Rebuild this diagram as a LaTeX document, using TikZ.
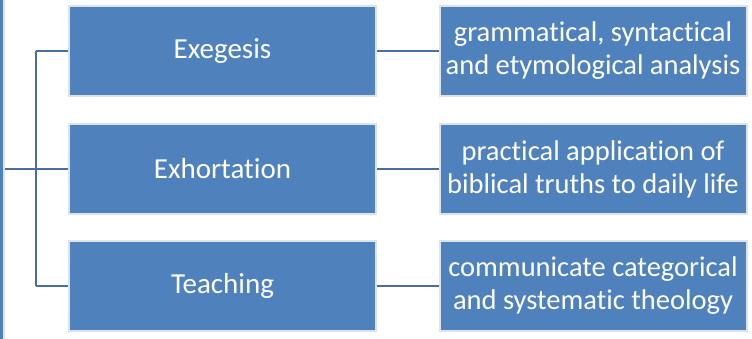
\documentclass[tikz,border=0pt]{standalone}
\usepackage{fontspec}
\setmainfont[Ligatures=NoCommon]{Carlito}
\usetikzlibrary{positioning}
\definecolor{boxblue}{HTML}{4F81BD}
\definecolor{rimgray}{HTML}{DDE3EB}
\definecolor{linkblue}{HTML}{4A6C9E}

\begin{document}
\begin{tikzpicture}[
  x=1pt, y=-1pt,
  topicbox/.style={draw=rimgray, line width=2pt, fill=boxblue, text=white,
    minimum width=307pt, minimum height=90pt, inner sep=0pt, font=\fontsize{29}{34}\selectfont},
  notebox/.style={topicbox, align=center, font=\fontsize{28.5}{33}\selectfont},
  link/.style={draw=linkblue, line width=2.2pt}
  ]

\useasboundingbox (0,0) rectangle (752,339);
\clip (0,0) rectangle (752,339);

% root box, cut off at the left edge
\node[topicbox, minimum width=40pt, minimum height=345pt, anchor=east] (root) at (5,169.5) {};

% topics
\node[topicbox] (exe) at (222.5,51) {Exegesis};
\node[topicbox] (exh) at (222.5,169) {Exhortation};
\node[topicbox] (tea) at (222.5,286) {Teaching};

% notes
\node[notebox] (exenote) at (593,51) {grammatical, syntactical\\and etymological analysis};
\node[notebox] (exhnote) at (593,169) {practical application of\\biblical truths to daily life};
\node[notebox] (teanote) at (593,286) {communicate categorical\\and systematic theology};

% bracket
\coordinate (hub) at (36,169);
\draw[link] (root.east |- hub) -- (hub);
\draw[link] (hub |- exe.west) -- (hub |- tea.west);
\draw[link] (hub |- exe.west) -- (exe.west);
\draw[link] (hub |- exh.west) -- (exh.west);
\draw[link] (hub |- tea.west) -- (tea.west);

% topic to note
\draw[link] (exe.east) -- (exenote.west);
\draw[link] (exh.east) -- (exhnote.west);
\draw[link] (tea.east) -- (teanote.west);

\end{tikzpicture}
\end{document}
